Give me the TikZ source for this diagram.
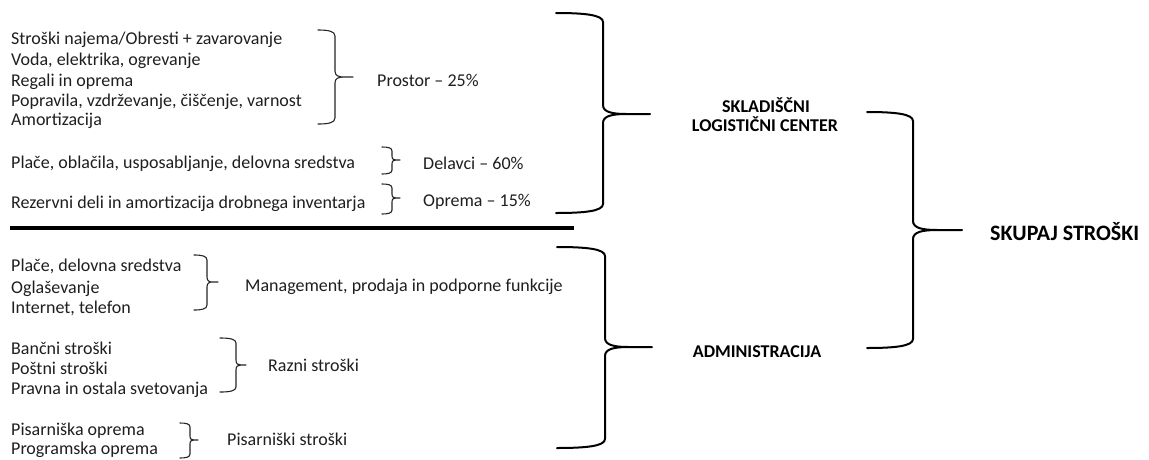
\documentclass[tikz,border=0pt]{standalone}
\usepackage{fontspec}
\setmainfont{Carlito}
\newcommand\wbrace[8]{%
 \draw[#1] (#2,#5) .. controls ({#3-0.4*(#3-#2)},#5) and (#3,{#5+0.2*#8}) .. (#3,{#5+#8})
   -- (#3,{#6-#8}) .. controls (#3,{#6-0.2*#8}) and ({#3+0.2*(#4-#3)},#6) .. ({#3+0.5*(#4-#3)},#6) -- (#4,#6)
   ({#3+0.5*(#4-#3)},#6) .. controls ({#3+0.2*(#4-#3)},#6) and (#3,{#6+0.2*#8}) .. (#3,{#6+#8})
   -- (#3,{#7-#8}) .. controls (#3,{#7-0.2*#8}) and ({#3-0.4*(#3-#2)},#7) .. (#2,#7);}
\begin{document}
\begin{tikzpicture}[x=1pt,y=-1pt,
  txt/.style={anchor=base west,inner sep=0pt,font=\fontsize{18}{21}\selectfont,text=black!88},
  head/.style={anchor=base,inner sep=0pt,font=\fontsize{18}{21}\selectfont\bfseries,text=black},
  big/.style={line width=2pt,line cap=round},
  small/.style={line width=1.1pt,black!85,line cap=round}]
\useasboundingbox[fill=white] (0,0) rectangle (1149,459);
% upper group items
\node[txt] (a1) at (11,44) {Stroški najema/Obresti + zavarovanje};
\node[txt] (a2) at (11,65) {Voda, elektrika, ogrevanje};
\node[txt] (a3) at (11,86) {Regali in oprema};
\node[txt] (a4) at (11,106) {Popravila, vzdrževanje, čiščenje, varnost};
\node[txt] (a5) at (11,125) {Amortizacija};
\node[txt] (b1) at (11,168) {Plače, oblačila, usposabljanje, delovna sredstva};
\node[txt] (c1) at (11,208) {Rezervni deli in amortizacija drobnega inventarja};
\node[txt] (pr) at (377,86) {Prostor – 25\%};
\node[txt] (de) at (423,169) {Delavci – 60\%};
\node[txt] (op) at (423,206) {Oprema – 15\%};
\wbrace{small}{318}{335}{353}{30}{77}{124}{6}
\wbrace{small}{382}{392}{400}{147}{160}{174}{4}
\wbrace{small}{382}{392}{400}{184}{198}{214}{4}
% separator
\draw[line width=4pt] (10,228) -- (574,228);
% lower group items
\node[txt] (d1) at (11,271) {Plače, delovna sredstva};
\node[txt] (d2) at (11,293) {Oglaševanje};
\node[txt] (d3) at (11,313) {Internet, telefon};
\node[txt] (e1) at (11,354) {Bančni stroški};
\node[txt] (e2) at (11,374) {Poštni stroški};
\node[txt] (e3) at (11,394) {Pravna in ostala svetovanja};
\node[txt] (f1) at (11,435) {Pisarniška oprema};
\node[txt] (f2) at (11,454.5) {Programska oprema};
\node[txt] (mg) at (245,291) {Management, prodaja in podporne funkcije};
\node[txt] (rz) at (268,371) {Razni stroški};
\node[txt] (ps) at (227,445) {Pisarniški stroški};
\wbrace{small}{194}{207}{218}{255}{282}{310}{5}
\wbrace{small}{220}{236}{246}{338}{365}{392}{5}
\wbrace{small}{180}{190}{198}{423}{440}{458}{4}
% big braces
\wbrace{big}{556}{603}{650}{13}{114}{213}{9}
\wbrace{big}{557}{605}{652}{247}{347}{448}{9}
\wbrace{big}{867}{913}{962}{112}{230}{348}{9}
\node[head] (sk1) at (766,112.5) {SKLADIŠČNI};
\node[head] (sk2) at (765,131) {LOGISTIČNI CENTER};
\node[head] (adm) at (757,357) {ADMINISTRACIJA};
\node[head,anchor=base west,font=\fontsize{22}{26}\selectfont\bfseries] (tot) at (990,240) {SKUPAJ STROŠKI};
\end{tikzpicture}
\end{document}
